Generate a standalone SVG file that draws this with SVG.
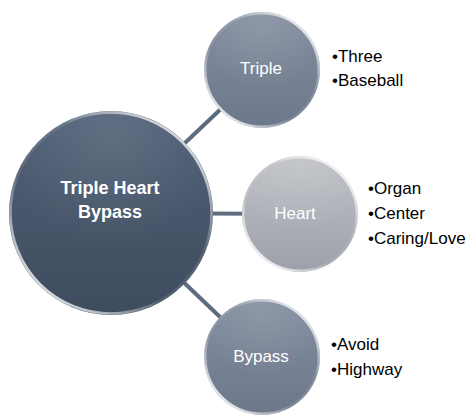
<svg xmlns="http://www.w3.org/2000/svg" width="470" height="420" viewBox="0 0 470 420">
  <defs>
    <linearGradient id="gBig" x1="0" y1="0" x2="0" y2="1">
      <stop offset="0" stop-color="#506076"/>
      <stop offset="1" stop-color="#3e4c5e"/>
    </linearGradient>
    <linearGradient id="gMid" x1="0" y1="0" x2="0" y2="1">
      <stop offset="0" stop-color="#838ea0"/>
      <stop offset="1" stop-color="#6c788a"/>
    </linearGradient>
    <linearGradient id="gLight" x1="0" y1="0" x2="0" y2="1">
      <stop offset="0" stop-color="#c0c2c7"/>
      <stop offset="1" stop-color="#9ca0a8"/>
    </linearGradient>
    <linearGradient id="gRim" x1="0.15" y1="0.9" x2="0.85" y2="0.1">
      <stop offset="0" stop-color="#ffffff" stop-opacity="0.85"/>
      <stop offset="0.35" stop-color="#ffffff" stop-opacity="0.1"/>
      <stop offset="0.65" stop-color="#ffffff" stop-opacity="0.1"/>
      <stop offset="1" stop-color="#ffffff" stop-opacity="0.8"/>
    </linearGradient>
    <radialGradient id="gShine" cx="0.5" cy="0.12" r="0.55">
      <stop offset="0" stop-color="#ffffff" stop-opacity="0.1"/>
      <stop offset="1" stop-color="#ffffff" stop-opacity="0"/>
    </radialGradient>
  </defs>
  <style>
    .conn { stroke: #5d6d7f; stroke-width: 4; fill: none; }
    .rim { fill: none; stroke: url(#gRim); stroke-width: 2.5; }
    .shine { fill: url(#gShine); }
    .lbl { font-family: "Liberation Sans", Arial, sans-serif; font-size: 17px; fill: #ffffff; text-anchor: middle; }
    .big { font-weight: bold; font-size: 18px; }
    .bul { font-family: "Liberation Sans", Arial, sans-serif; font-size: 17px; fill: #000000; }
  </style>
  <g id="connectors">
    <line class="conn" x1="111" y1="213" x2="262" y2="70"/>
    <line class="conn" x1="111" y1="213" x2="300" y2="214"/>
    <line class="conn" x1="111" y1="213" x2="262" y2="357"/>
  </g>
  <g id="node-center">
    <circle cx="111" cy="213" r="102" fill="url(#gBig)"/>
    <circle cx="111" cy="213" r="102" class="shine"/>
    <circle cx="111" cy="213" r="100.5" class="rim"/>
    <text class="lbl big" x="110" y="194">Triple Heart</text>
    <text class="lbl big" x="110" y="218">Bypass</text>
  </g>
  <g id="node-triple">
    <circle cx="262" cy="70" r="58" fill="url(#gMid)"/>
    <circle cx="262" cy="70" r="58" class="shine"/>
    <circle cx="262" cy="70" r="56.8" class="rim"/>
    <text class="lbl" x="261" y="74">Triple</text>
  </g>
  <g id="node-heart">
    <circle cx="300" cy="214" r="58" fill="url(#gLight)"/>
    <circle cx="300" cy="214" r="58" class="shine"/>
    <circle cx="300" cy="214" r="56.8" class="rim"/>
    <text class="lbl" x="295" y="219">Heart</text>
  </g>
  <g id="node-bypass">
    <circle cx="262" cy="357" r="58" fill="url(#gMid)"/>
    <circle cx="262" cy="357" r="58" class="shine"/>
    <circle cx="262" cy="357" r="56.8" class="rim"/>
    <text class="lbl" x="261" y="362">Bypass</text>
  </g>
  <g id="list-triple">
    <text class="bul" x="332" y="62">•Three</text>
    <text class="bul" x="332" y="86">•Baseball</text>
  </g>
  <g id="list-heart">
    <text class="bul" x="368" y="194">•Organ</text>
    <text class="bul" x="368" y="219">•Center</text>
    <text class="bul" x="368" y="244">•Caring/Love</text>
  </g>
  <g id="list-bypass">
    <text class="bul" x="331" y="350">•Avoid</text>
    <text class="bul" x="331" y="375">•Highway</text>
  </g>
</svg>
